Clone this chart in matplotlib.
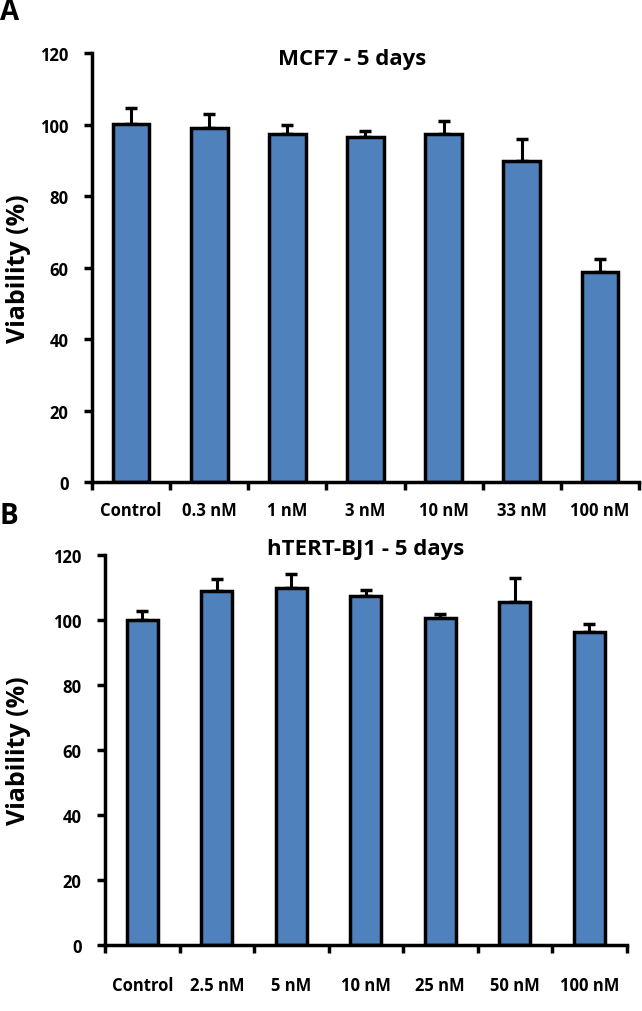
import matplotlib
matplotlib.use("Agg")
import matplotlib.pyplot as plt
import numpy as np

plt.rcParams['font.family'] = ['Open Sans', 'DejaVu Sans']
plt.rcParams['font.weight'] = 'bold'

cats_a = ["Control", "0.3 nM", "1 nM", "3 nM", "10 nM", "33 nM", "100 nM"]
vals_a = [100.2, 99.0, 97.3, 96.6, 97.4, 89.8, 58.7]
errs_a = [4.4, 4.0, 2.6, 1.5, 3.6, 6.2, 3.8]

cats_b = ["Control", "2.5 nM", "5 nM", "10 nM", "25 nM", "50 nM", "100 nM"]
vals_b = [100.0, 109.0, 109.8, 107.4, 100.5, 105.5, 96.3]
errs_b = [2.7, 3.6, 4.5, 1.8, 1.4, 7.4, 2.5]

yticks = [0, 20, 40, 60, 80, 100, 120]

BAR_COLOR = "#4F81BD"

fig = plt.figure(figsize=(6.42, 10.12), dpi=100)

def panel(rect, cats, vals, errs, title, title_xy, width, letter, letter_y, xpad):
    ax = fig.add_axes(rect)
    x = np.arange(len(cats))
    ax.bar(x, vals, width=width, color=BAR_COLOR, edgecolor="black", linewidth=2.5, zorder=2)
    ax.errorbar(x, vals, yerr=[np.zeros(len(errs)), errs], fmt="none", ecolor="black",
                elinewidth=2.2, capsize=4, capthick=2.5, zorder=1)
    ax.set_xlim(-0.5, len(cats) - 0.5)
    ax.set_ylim(0, 120)
    ax.set_yticks(yticks)
    ax.set_yticklabels([str(t) for t in yticks], fontsize=12, fontweight="bold")
    ax.set_xticks(np.arange(len(cats) + 1) - 0.5)
    ax.set_xticklabels([])
    ax.set_xticks(x, minor=True)
    ax.set_xticklabels(cats, minor=True, fontsize=12, fontweight="bold")
    ax.tick_params(axis="x", which="major", direction="out", length=6, width=2.5)
    ax.tick_params(axis="x", which="minor", length=0, pad=xpad)
    ax.tick_params(axis="y", direction="out", length=6, width=2.5, pad=11)
    for s in ["top", "right"]:
        ax.spines[s].set_visible(False)
    for s in ["left", "bottom"]:
        ax.spines[s].set_linewidth(2.5)
    ax.set_ylabel("Viability (%)", fontsize=18, fontweight="bold")
    fig.text(title_xy[0] / 642, 1 - title_xy[1] / 1012, title, ha="center", va="center",
             fontsize=16, fontweight="bold")
    fig.text(0.0, letter_y, letter, ha="left", va="center", fontsize=20, fontweight="bold")
    return ax

axA = panel([0.1433, 0.5227, 0.8520, 0.4239], cats_a, vals_a, errs_a,
            "MCF7 - 5 days", (352, 59), 0.47, "A", 1 - 13 / 1012, 14)
axB = panel([0.1636, 0.0652, 0.8123, 0.3854], cats_b, vals_b, errs_b,
            "hTERT-BJ1 - 5 days", (366, 549), 0.42, "B", 1 - 517 / 1012, 22)

axA.yaxis.set_label_coords((31 - 92) / 547, 0.5)
axB.yaxis.set_label_coords((31 - 105) / 521.5, 0.5)

fig.savefig("out.png", dpi=100)
